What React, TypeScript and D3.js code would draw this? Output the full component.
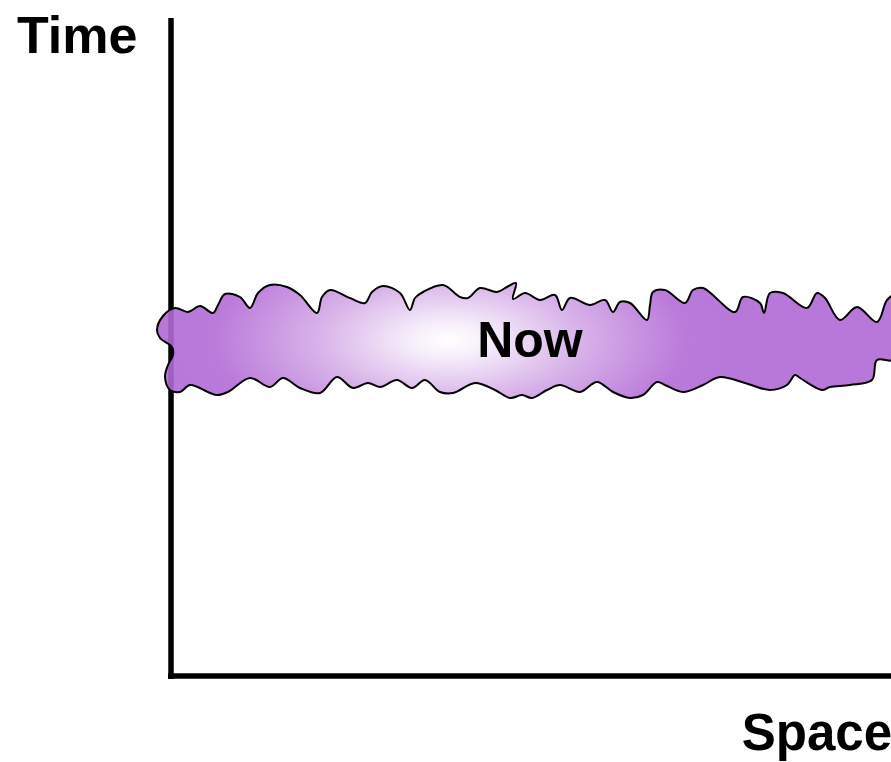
import * as d3 from "d3"

// outline of the "Now" band, in [space, time] units from the origin
const bandTop: [number, number][] = [
  [-14, 346], [-8, 360], [4, 368], [17, 364], [29, 370], [42, 363], [47, 371], [54, 382],
  [69, 379], [79, 368], [87, 383], [99, 391], [116, 389], [129, 381], [146, 363], [151, 379],
  [159, 386], [179, 378], [194, 373], [201, 384], [212, 390], [229, 383], [239, 366], [244, 378],
  [252, 384], [272, 391], [289, 379], [297, 378], [309, 388], [326, 384], [336, 389], [345, 393],
  [342, 377], [354, 383], [369, 376], [384, 381], [391, 366], [399, 378], [419, 371], [434, 376],
  [442, 364], [449, 374], [459, 373], [476, 356], [479, 371], [482, 384], [494, 386], [514, 373],
  [522, 386], [532, 388], [564, 364], [572, 379], [589, 373], [593, 363], [599, 383], [612, 383],
  [636, 368], [646, 383], [654, 378], [669, 356], [686, 369], [706, 354], [716, 376], [724, 381],
  [734, 346],
]
const bandBottom: [number, number][] = [
  [724, 316], [706, 316], [701, 296], [679, 291], [659, 289], [651, 286], [629, 298], [624, 301],
  [616, 291], [599, 286], [574, 293], [549, 299], [532, 291], [512, 284], [494, 291], [486, 294],
  [472, 281], [459, 278], [442, 284], [426, 294], [409, 284], [389, 291], [376, 286], [361, 278],
  [351, 281], [339, 278], [324, 286], [304, 293], [282, 283], [269, 284], [254, 296], [241, 288],
  [226, 296], [209, 289], [197, 293], [182, 288], [166, 299], [149, 283], [129, 288], [112, 298],
  [99, 289], [79, 298], [57, 284], [46, 281], [39, 283], [19, 291], [9, 284], [-1, 286],
  [-6, 299], [-3, 311], [2, 321], [1, 329], [-11, 338],
]
const glowCenter: [number, number] = [278, 336]
const labels = { y: "Time", x: "Space", band: "Now" }

const W = 891, H = 762
const font = "'Liberation Sans', Arial, Helvetica, sans-serif"

export default function App() {
  const x = d3.scaleLinear().domain([0, 720]).range([171, 891])
  const y = d3.scaleLinear().domain([0, 658]).range([676, 18])

  const outline = d3.line<[number, number]>()
    .x(d => x(d[0]))
    .y(d => y(d[1]))
    .curve(d3.curveCatmullRomClosed.alpha(0.5))

  const cx = x(glowCenter[0]), cy = y(glowCenter[1])

  return (
    <svg width={W} height={H} style={{ position: "absolute", left: 0, top: 0 }}>
      <defs>
        <radialGradient id="glow" gradientUnits="userSpaceOnUse" cx={cx} cy={cy} r={295}
          gradientTransform={`translate(${cx},${cy}) scale(1,0.45) translate(${-cx},${-cy})`}>
          <stop offset="0" stopColor="#ffffff" />
          <stop offset="0.12" stopColor="#f6eefb" />
          <stop offset="0.45" stopColor="#d3a9e6" />
          <stop offset="0.8" stopColor="#b36cd6" />
          <stop offset="1" stopColor="#b069d4" />
        </radialGradient>
      </defs>
      <rect width={W} height={H} fill="#fff" />
      {/* axes */}
      <line x1={x(0)} x2={x(0)} y1={y(0) + 3} y2={y(658)} stroke="#000" strokeWidth={5.5} />
      <line x1={x(0) - 3} x2={x(720)} y1={y(0)} y2={y(0)} stroke="#000" strokeWidth={5.5} />
      {/* band */}
      <path d={outline([...bandTop, ...bandBottom]) ?? ""} fill="url(#glow)" fillOpacity={0.9}
        stroke="#000" strokeWidth={2} strokeLinejoin="round" />
      <text x={17} y={53} fontFamily={font} fontWeight="bold" fontSize={52}>{labels.y}</text>
      <text x={892} y={750} textAnchor="end" fontFamily={font} fontWeight="bold" fontSize={51}>{labels.x}</text>
      <text x={530} y={357} textAnchor="middle" fontFamily={font} fontWeight="bold" fontSize={50}>{labels.band}</text>
    </svg>
  )
}
